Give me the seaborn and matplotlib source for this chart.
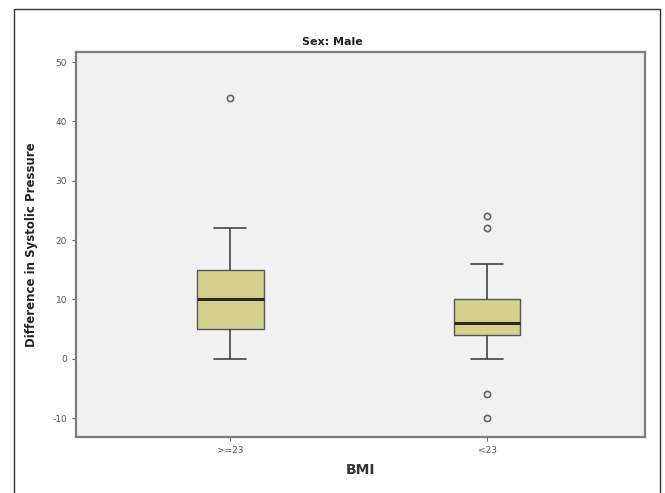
import matplotlib
matplotlib.use("Agg")
import matplotlib.pyplot as plt
import seaborn as sns
import pandas as pd
from matplotlib.patches import Rectangle

# Data (raw values chosen to reproduce the box statistics)
categories = [">=23", "<23"]
bmi_ge23 = [0, 2, 5, 5, 7, 10, 10, 12, 15, 15, 18, 22, 44]
bmi_lt23 = [-10, -6, 0, 2, 4, 4, 5, 6, 6, 6, 8, 10, 10, 14, 16, 22, 24]
yticks = [-10, 0, 10, 20, 30, 40, 50]

df = pd.DataFrame({
    "BMI": [categories[0]] * len(bmi_ge23) + [categories[1]] * len(bmi_lt23),
    "Diff": bmi_ge23 + bmi_lt23,
})

sns.set_style("white")
plt.rcParams['font.family'] = ['DejaVu Sans']

fig = plt.figure(figsize=(6.65, 4.93), dpi=100)
ax = fig.add_axes([76/665, 1 - 437/493, (645 - 76)/665, (437 - 52)/493])
ax.set_facecolor("#f1f1f1")

sns.boxplot(
    data=df, x="BMI", y="Diff", order=categories, ax=ax, width=0.26,
    color="#d5d08e", saturation=1, whis=1.5,
    boxprops=dict(edgecolor="#555555", linewidth=1.0),
    medianprops=dict(color="#2b2a1a", linewidth=2.2),
    whiskerprops=dict(color="#444444", linewidth=1.2),
    capprops=dict(color="#444444", linewidth=1.2),
    flierprops=dict(marker="o", markersize=4.5, markerfacecolor="none",
                    markeredgecolor="#666666", markeredgewidth=1.2),
    capwidths=0.125,
)

ax.set_xlim(-0.6, 1.615)
ax.set_ylim(-13.2, 51.7)
ax.set_yticks(yticks)
ax.set_yticklabels([str(t) for t in yticks])

for s in ax.spines.values():
    s.set_color("#7d7d7d")
    s.set_linewidth(1.6)

ax.tick_params(axis="both", which="both", direction="out", length=3, width=0.8,
               color="#666666", labelsize=6.5, labelcolor="#555555",
               left=True, bottom=True)

ax.set_xlabel("BMI", fontsize=10, fontweight="bold", color="#333333", labelpad=6)
ax.set_ylabel("Difference in Systolic Pressure", fontsize=8.5, fontweight="bold",
              color="#222222", labelpad=10)
ax.set_title("Sex: Male", fontsize=8, fontweight="bold", color="#222222", pad=5,
             x=(332 - 76) / 569)

# outer frame
fig.patches.append(Rectangle((14/665, -0.05), (660 - 14)/665, 1.05 - 9/493,
                             transform=fig.transFigure, fill=False,
                             edgecolor="#333333", linewidth=1.0))

fig.savefig("out.png", dpi=100)
